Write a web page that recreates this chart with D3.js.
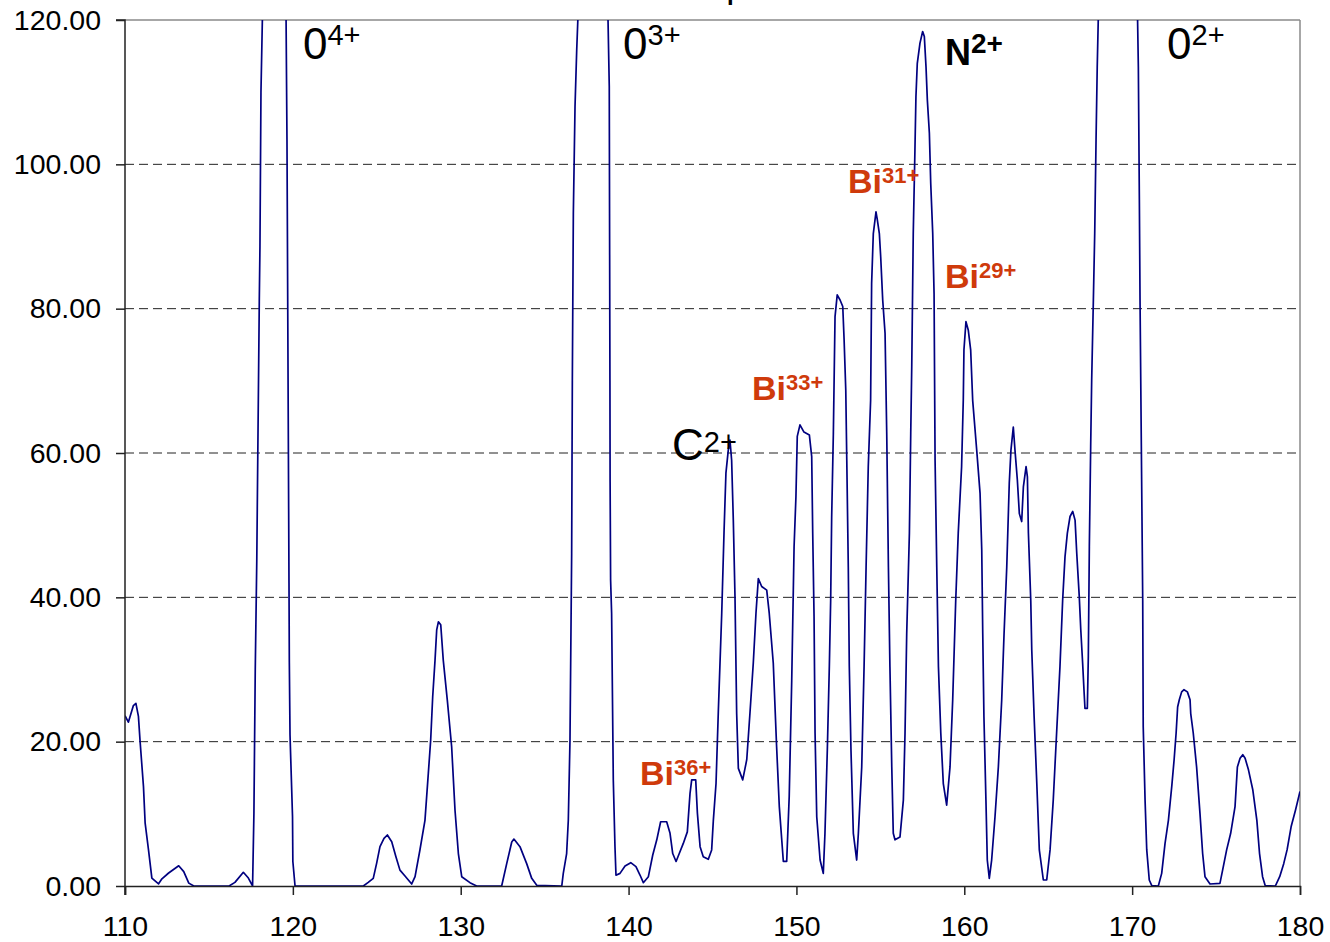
<!DOCTYPE html>
<html>
<head>
<meta charset="utf-8">
<script src="https://cdn.jsdelivr.net/npm/d3@7"></script>
<style>
  html, body { margin: 0; padding: 0; background: #fff; }
  svg { display: block; }
  text { font-family: "Liberation Sans", Arial, sans-serif; }
</style>
</head>
<body>
<svg id="chart" width="1330" height="942"></svg>
<script>
// Mass-to-charge (x) and signal counts (y) of the spectrum trace
const massToCharge = [
  110.00,110.20,110.50,110.65,110.80,110.90,111.10,111.20,111.40,111.60,112.00,112.20,112.60,113.20,113.50,113.80,114.10,116.20,116.55,117.05,117.35,117.60,
  117.68,117.76,117.85,118.00,118.04,118.10,118.20,118.90,119.59,119.65,119.77,119.79,119.83,119.98,120.00,120.13,
  124.20,124.49,124.79,124.99,125.19,125.43,125.63,125.89,126.14,126.38,126.68,127.08,127.28,127.57,127.87,128.07,128.21,128.33,128.47,128.57,128.67,128.81,
  128.96,129.20,129.46,129.66,129.86,130.06,130.55,130.95,132.44,132.74,133.04,133.17,133.53,133.93,134.23,134.53,136.02,136.11,136.31,136.41,136.51,136.61,
  136.65,136.71,136.81,136.91,137.01,137.90,138.76,138.85,138.89,138.90,138.93,138.99,139.09,139.19,139.25,139.49,139.79,140.13,140.44,140.68,140.88,141.18,
  141.44,141.68,141.91,142.27,142.47,142.63,142.83,143.02,143.26,143.50,143.66,143.76,144.00,144.10,144.26,144.45,144.75,144.95,145.05,145.21,145.35,145.55,
  145.69,145.80,145.94,146.04,146.14,146.24,146.34,146.44,146.54,146.80,147.04,147.23,147.43,147.59,147.73,147.93,148.23,148.38,148.62,148.82,148.98,149.22,
  149.42,149.57,149.72,149.86,149.97,150.05,150.21,150.45,150.77,150.91,150.97,151.05,151.11,151.21,151.41,151.60,151.70,151.84,151.96,152.04,152.10,152.20,
  152.30,152.43,152.60,152.76,152.84,152.94,153.00,153.09,153.15,153.25,153.39,153.59,153.69,153.89,154.03,154.15,154.28,154.42,154.48,154.58,154.74,154.82,
  154.94,155.02,155.14,155.28,155.38,155.48,155.57,155.68,155.77,155.87,156.17,156.37,156.47,156.57,156.73,156.81,156.87,156.96,157.06,157.12,157.20,157.36,
  157.52,157.62,157.72,157.80,157.92,158.00,158.12,158.20,158.26,158.36,158.46,158.60,158.75,158.95,159.15,159.31,159.49,159.64,159.84,159.94,159.98,160.10,
  160.24,160.38,160.50,160.74,160.94,161.04,161.10,161.17,161.29,161.37,161.49,161.63,161.83,162.03,162.23,162.37,162.53,162.68,162.78,162.92,163.02,163.16,
  163.28,163.42,163.52,163.68,163.76,163.82,163.96,164.02,164.16,164.32,164.47,164.71,164.91,165.11,165.30,165.50,165.70,165.86,166.00,166.14,166.30,166.46,
  166.60,166.70,166.85,166.94,167.05,167.13,167.19,167.33,167.39,167.45,167.53,167.59,167.69,167.77,167.85,167.92,168.00,169.15,170.31,170.37,170.43,170.47,
  170.63,170.66,170.77,170.87,171.02,171.17,171.56,171.76,171.96,172.16,172.36,172.50,172.62,172.71,172.81,172.95,173.09,173.29,173.45,173.49,173.64,173.84,
  174.04,174.20,174.34,174.64,175.23,175.39,175.63,175.87,176.13,176.27,176.43,176.59,176.73,176.93,177.19,177.43,177.59,177.77,177.93,178.53,178.79,179.03,
  179.23,179.47,179.73,180.00
];
const counts = [
  23.6,22.7,25.0,25.3,23.5,20.0,13.8,8.7,5.0,1.1,0.3,1.0,1.8,2.8,2.0,0.4,0.0,0.0,0.5,1.9,1.1,0.0,
  10,30,45,81,88.6,110,122,400,122,103.4,42,31,21,9.6,3.4,0.0,
  0.0,0.5,1.06,3.14,5.45,6.6,7.07,6.14,4.06,2.2,1.39,0.28,1.29,4.99,9.1,15.6,20.2,26.2,31.3,35.5,36.6,36.2,
  31.3,25.8,19.3,10.5,4.5,1.29,0.46,0.0,0.0,3.1,6.1,6.5,5.45,3.1,1.06,0.1,0.0,1.75,4.5,9.1,20.2,46.1,
  70.1,93.2,108,115.8,122,400,122,110.8,70,56,42.4,37.8,14.7,5.45,1.5,1.75,2.77,3.23,2.68,1.52,0.46,1.29,
  4.3,6.4,8.9,8.9,7.3,4.5,3.4,4.5,5.9,7.5,12.8,14.7,14.7,10.1,5.45,4.06,3.7,5.0,9.1,14.2,24.4,37.8,
  49.3,57.2,60.4,61.8,59.0,50.7,40.1,23.9,16.3,14.7,17.5,23.9,30.9,37.8,42.6,41.5,41.0,37.8,30.9,19.3,11.0,3.4,
  3.4,12.4,28.5,47.0,53.9,62.3,63.9,62.9,62.5,59.5,48.9,37.3,21.2,9.6,3.6,1.75,7.3,18.8,30.4,39.6,51.2,62.7,
  78.9,81.9,81.2,80.3,75.7,68.7,59.0,44.2,30.4,18.8,7.3,3.6,7.3,16.5,30.4,44.2,58.1,67.3,83.5,90.4,93.4,92.3,
  90.4,87.2,81.2,76.6,62.7,44.2,30.4,16.5,7.3,6.4,6.8,11.9,21.2,35.0,48.9,62.7,72.0,90.4,102.0,109.4,114.0,116.8,
  118.4,117.7,113.5,108.9,104.3,97.4,90.4,82.1,59.0,44.2,30.4,21.2,14.2,11.2,16.5,25.8,39.6,48.9,58.1,67.3,74.3,78.2,
  77.0,74.3,67.3,60.4,54.4,46.6,35.0,23.5,11.9,3.6,1.06,3.6,9.6,16.5,25.8,35.0,44.2,55.8,60.4,63.6,60.4,56.3,
  51.6,50.5,55.3,58.1,56.7,48.9,39.6,32.7,23.5,14.2,5.0,0.83,0.83,5.0,11.9,21.2,30.4,39.6,45.6,48.9,51.2,51.9,
  50.7,46.1,40.1,35.5,30.9,27.2,24.6,24.6,31.8,47.0,60.9,70.1,81.2,90.4,103.4,113.5,122,400,122,113.5,95.1,81.2,
  39.6,22.1,11.9,5.0,0.83,0.05,0.0,1.75,5.9,9.1,13.8,17.5,21.2,24.8,25.8,26.9,27.2,26.9,25.8,23.9,21.2,16.5,
  10.1,4.5,1.29,0.28,0.37,2.2,5.0,7.3,11.0,16.5,17.7,18.2,17.7,16.1,13.3,9.1,4.5,1.29,0.05,0.0,1.29,3.1,
  5.0,8.2,10.5,13.1
];

// Axis ticks
const xTicks = [110, 120, 130, 140, 150, 160, 170, 180];
const yTicks = [0, 20, 40, 60, 80, 100, 120];

// Peak annotations: main symbol, charge superscript, anchor (x, y in data units)
const ionLabels   = ["0", "0", "0", "N", "C", "Bi", "Bi", "Bi", "Bi"];
const ionCharges  = ["4+", "3+", "2+", "2+", "2+", "31+", "29+", "33+", "36+"];
const ionX        = [120.60, 139.67, 172.08, 158.85, 142.59, 153.07, 158.85, 147.35, 140.68];
const ionY        = [114.6, 114.6, 114.6, 113.8, 59.0, 96.0, 82.9, 67.3, 14.0];
const ionKind     = ["gas", "gas", "gas", "gasBold", "gas", "bi", "bi", "bi", "bi"];

const svg = d3.select("#chart");
const plotL = 125, plotR = 1300, plotT = 20, plotB = 886;

const x = d3.scaleLinear().domain([110, 180]).range([plotL, plotR]);
const y = d3.scaleLinear().domain([0, 120]).range([plotB, plotT]);

// Title (sits above the visible area)
svg.append("text")
  .attr("x", 711).attr("y", 0)
  .attr("font-size", 24).attr("font-weight", "bold")
  .attr("fill", "#000")
  .text("Spectrum");

// Dashed horizontal gridlines
svg.append("g")
  .selectAll("line")
  .data(yTicks.filter(d => d > 0 && d < 120))
  .join("line")
  .attr("x1", plotL).attr("x2", plotR)
  .attr("y1", d => y(d)).attr("y2", d => y(d))
  .attr("stroke", "#222").attr("stroke-width", 1)
  .attr("stroke-dasharray", "9,5");

// Plot frame (top and right)
svg.append("line").attr("x1", plotL).attr("x2", plotR).attr("y1", plotT).attr("y2", plotT)
  .attr("stroke", "#8a8a8a").attr("stroke-width", 1.5);
svg.append("line").attr("x1", plotR).attr("x2", plotR).attr("y1", plotT).attr("y2", plotB)
  .attr("stroke", "#8a8a8a").attr("stroke-width", 1.5);

// Clipped spectrum trace
svg.append("clipPath").attr("id", "plotClip")
  .append("rect").attr("x", plotL).attr("y", plotT)
  .attr("width", plotR - plotL).attr("height", plotB - plotT);

const points = massToCharge.map((m, i) => [m, counts[i]]);
const line = d3.line().x(d => x(d[0])).y(d => y(d[1]));

svg.append("path")
  .datum(points)
  .attr("clip-path", "url(#plotClip)")
  .attr("fill", "none")
  .attr("stroke", "#000080")
  .attr("stroke-width", 1.7)
  .attr("stroke-linejoin", "round")
  .attr("d", line);

// Axes
const yAxis = d3.axisLeft(y).tickValues(yTicks).tickSize(9).tickPadding(15)
  .tickFormat(d => d.toFixed(2));
const xAxis = d3.axisBottom(x).tickValues(xTicks).tickSize(9).tickPadding(21)
  .tickFormat(d3.format("d"));

const gy = svg.append("g").attr("transform", `translate(${plotL},0)`).call(yAxis);
const gx = svg.append("g").attr("transform", `translate(0,${plotB})`).call(xAxis);

[gx, gy].forEach(g => {
  g.select(".domain").attr("stroke", "#222").attr("stroke-width", 1.5);
  g.selectAll(".tick line").attr("stroke", "#222").attr("stroke-width", 1.5);
  g.selectAll(".tick text")
    .attr("font-family", "'Liberation Sans', Arial, sans-serif")
    .attr("font-size", 28.5)
    .attr("fill", "#000");
});
gy.select(".domain").attr("d", `M-9,${plotT}H0V${plotB + 9}`);

// Peak annotations
const styles = {
  gas:     { size: 44, supSize: 29, weight: "normal", fill: "#000", dy: -14 },
  gasBold: { size: 36, supSize: 28, weight: "bold",   fill: "#000", dy: -12 },
  bi:      { size: 34, supSize: 22, weight: "bold",   fill: "#CF3A0B", dy: -10 }
};

ionLabels.forEach((lab, i) => {
  const s = styles[ionKind[i]];
  const dy = lab === "C" ? -8 : s.dy;
  const t = svg.append("text")
    .attr("x", x(ionX[i])).attr("y", y(ionY[i]))
    .attr("font-weight", s.weight)
    .attr("fill", s.fill);
  t.append("tspan").attr("font-size", s.size).text(lab);
  t.append("tspan").attr("font-size", s.supSize).attr("dy", dy).text(ionCharges[i]);
});
</script>
</body>
</html>
